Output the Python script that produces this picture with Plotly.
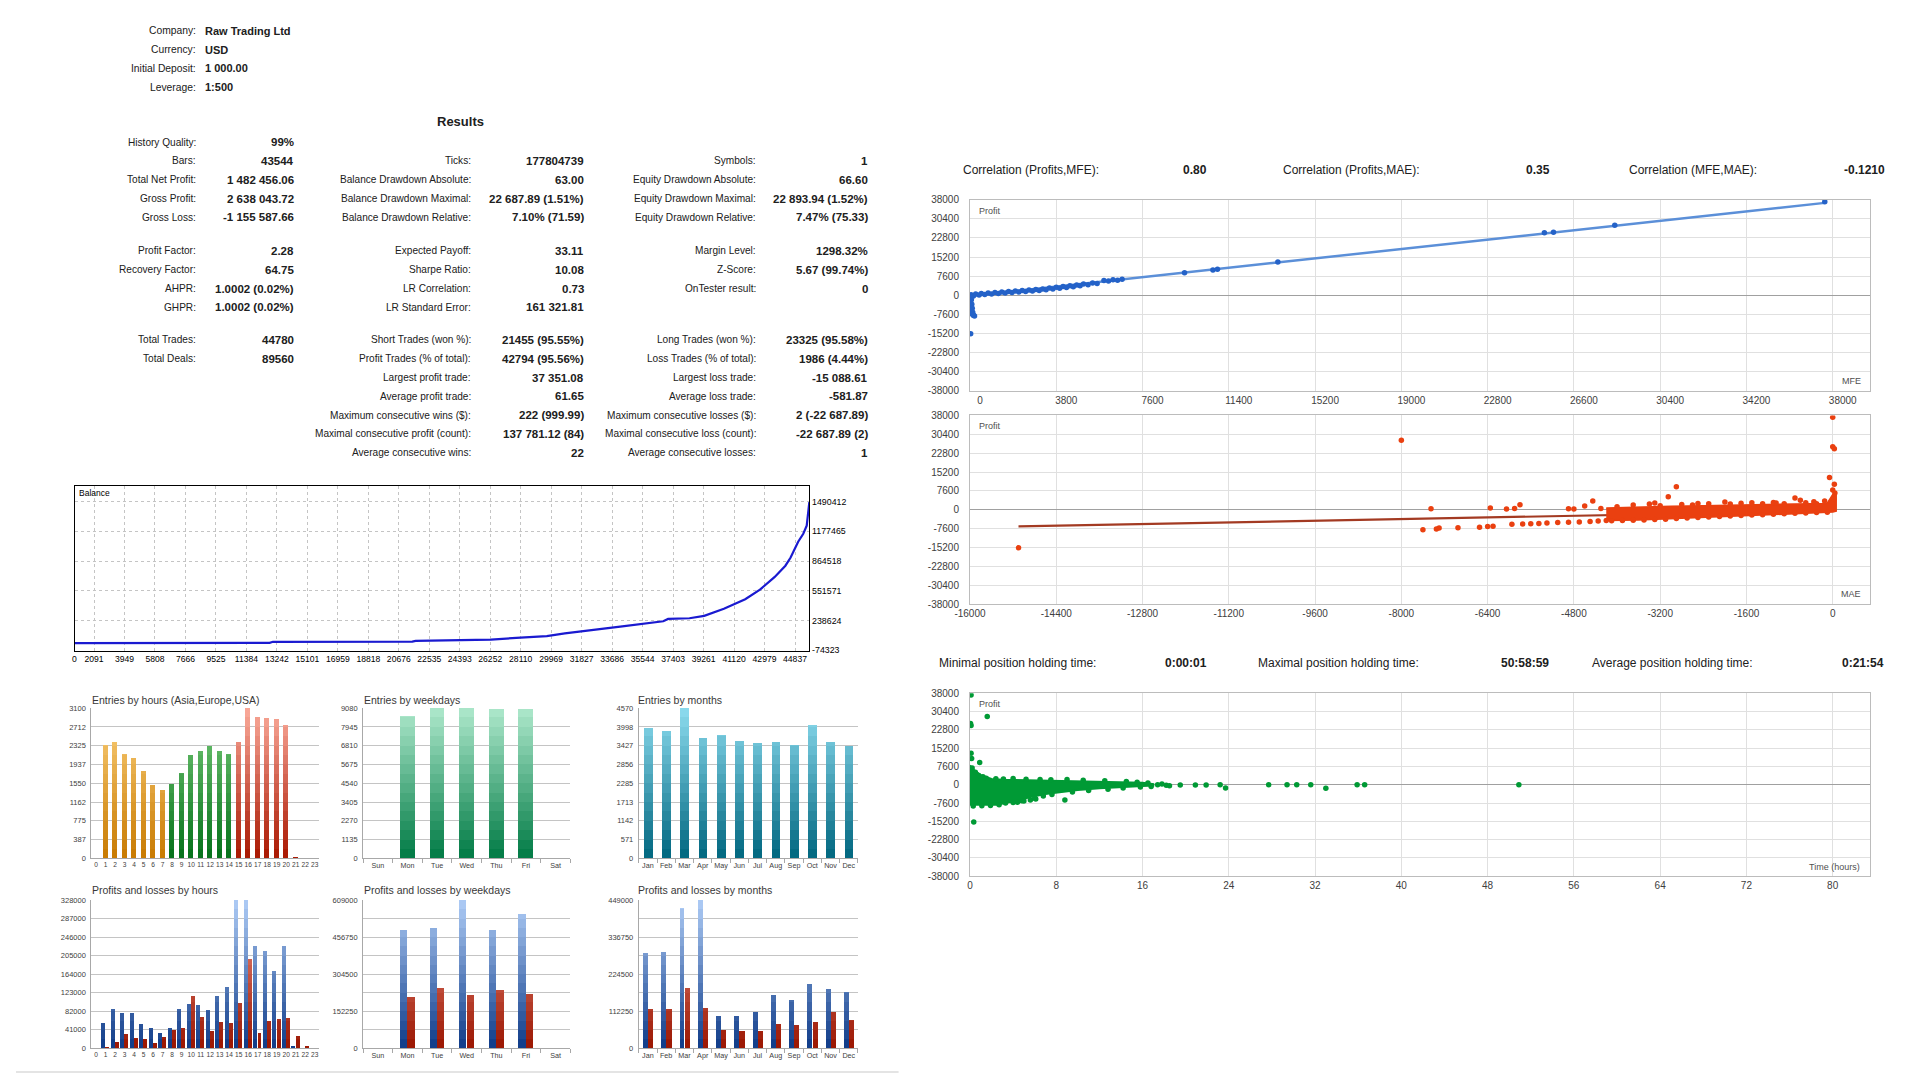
import numpy as np
import plotly.graph_objects as go

# ======================= DATA =======================
info_labels = ["Company:", "Currency:", "Initial Deposit:", "Leverage:"]
info_values = ["Raw Trading Ltd", "USD", "1 000.00", "1:500"]

results_title = "Results"
col1_labels = ["History Quality:", "Bars:", "Total Net Profit:", "Gross Profit:", "Gross Loss:",
               "Profit Factor:", "Recovery Factor:", "AHPR:", "GHPR:",
               "Total Trades:", "Total Deals:"]
col1_values = ["99%", "43544", "1 482 456.06", "2 638 043.72", "-1 155 587.66",
               "2.28", "64.75", "1.0002 (0.02%)", "1.0002 (0.02%)",
               "44780", "89560"]
col2_labels = ["Ticks:", "Balance Drawdown Absolute:", "Balance Drawdown Maximal:", "Balance Drawdown Relative:",
               "Expected Payoff:", "Sharpe Ratio:", "LR Correlation:", "LR Standard Error:",
               "Short Trades (won %):", "Profit Trades (% of total):", "Largest profit trade:",
               "Average profit trade:", "Maximum consecutive wins ($):",
               "Maximal consecutive profit (count):", "Average consecutive wins:"]
col2_values = ["177804739", "63.00", "22 687.89 (1.51%)", "7.10% (71.59)",
               "33.11", "10.08", "0.73", "161 321.81",
               "21455 (95.55%)", "42794 (95.56%)", "37 351.08", "61.65", "222 (999.99)",
               "137 781.12 (84)", "22"]
col3_labels = ["Symbols:", "Equity Drawdown Absolute:", "Equity Drawdown Maximal:", "Equity Drawdown Relative:",
               "Margin Level:", "Z-Score:", "OnTester result:",
               "Long Trades (won %):", "Loss Trades (% of total):", "Largest loss trade:",
               "Average loss trade:", "Maximum consecutive losses ($):",
               "Maximal consecutive loss (count):", "Average consecutive losses:"]
col3_values = ["1", "66.60", "22 893.94 (1.52%)", "7.47% (75.33)",
               "1298.32%", "5.67 (99.74%)", "0",
               "23325 (95.58%)", "1986 (4.44%)", "-15 088.61", "-581.87", "2 (-22 687.89)",
               "-22 687.89 (2)", "1"]

corr_labels = ["Correlation (Profits,MFE):", "Correlation (Profits,MAE):", "Correlation (MFE,MAE):"]
corr_values = ["0.80", "0.35", "-0.1210"]
hold_labels = ["Minimal position holding time:", "Maximal position holding time:", "Average position holding time:"]
hold_values = ["0:00:01", "50:58:59", "0:21:54"]

# Balance curve (axis units as labelled on the chart)
bal_x = [900, 12800, 13000, 21500, 21700, 25000, 26300, 28100, 29700, 30800, 32500, 34300,
         36800, 37100, 38400, 39300, 40500, 41800, 42700, 43600, 44250, 44560, 45030, 45340,
         45550, 45710]
bal_y = [1000, 3000, 14000, 16000, 24000, 33000, 38000, 58000, 75000, 102000, 136000, 176000,
         230000, 255000, 262000, 287000, 361000, 462000, 563000, 697000, 815000, 899000, 1067000,
         1151000, 1236000, 1483456]
bal_xticks = [0, 2091, 3949, 5808, 7666, 9525, 11384, 13242, 15101, 16959, 18818, 20676, 22535,
              24393, 26252, 28110, 29969, 31827, 33686, 35544, 37403, 39261, 41120, 42979, 44837]
bal_yticks = [-74323, 238624, 551571, 864518, 1177465, 1490412]

# Bar charts
hour_labels = [str(h) for h in range(24)]
hour_session = ["Asia"] * 8 + ["Europe"] * 7 + ["USA"] * 9
weekday_labels = ["Sun", "Mon", "Tue", "Wed", "Thu", "Fri", "Sat"]
month_labels = ["Jan", "Feb", "Mar", "Apr", "May", "Jun", "Jul", "Aug", "Sep", "Oct", "Nov", "Dec"]

entries_hours = [0, 2329, 2391, 2157, 2067, 1805, 1502, 1419, 1536, 1757, 2122, 2212, 2308, 2219,
                 2157, 2398, 3100, 2921, 2901, 2866, 2756, 12, 0, 0]
entries_weekdays = [0, 8576, 9080, 9060, 9040, 9024, 0]
entries_months = [3950, 3880, 4570, 3660, 3740, 3560, 3515, 3540, 3435, 4060, 3540, 3415]

pl_hours_profit = [0, 57000, 86000, 79000, 79000, 53000, 45000, 34000, 45000, 88000, 98000, 96000,
                   84000, 115000, 135000, 355000, 346000, 226000, 215000, 172000, 226000, 4400, 0, 0]
pl_hours_loss = [0, 2000, 15000, 32000, 23000, 21000, 11000, 26000, 41000, 46000, 115000, 69000,
                 38000, 59000, 55000, 101000, 197000, 33000, 61000, 64000, 67000, 28000, 5000, 700]
pl_weekdays_profit = [0, 486800, 493600, 622000, 484000, 552000, 0]
pl_weekdays_loss = [0, 210000, 248000, 217000, 240000, 224000, 0]
pl_months_profit = [290000, 292000, 424000, 470000, 97000, 97000, 109000, 162000, 147000, 194000,
                    181000, 172000]
pl_months_loss = [119000, 120000, 182000, 122000, 54000, 52000, 52000, 75000, 72000, 81000,
                  110000, 86000]

entries_hours_ticks = [0, 387, 775, 1162, 1550, 1937, 2325, 2712, 3100]
entries_weekday_ticks = [0, 1135, 2270, 3405, 4540, 5675, 6810, 7945, 9080]
entries_month_ticks = [0, 571, 1142, 1713, 2285, 2856, 3427, 3998, 4570]
pl_hours_ticks = [0, 41000, 82000, 123000, 164000, 205000, 246000, 287000, 328000]
pl_weekday_ticks = [0, 152250, 304500, 456750, 609000]
pl_month_ticks = [0, 112250, 224500, 336750, 449000]

# Scatter charts
profit_ticks = [-38000, -30400, -22800, -15200, -7600, 0, 7600, 15200, 22800, 30400, 38000]
mfe_ticks = [0, 3800, 7600, 11400, 15200, 19000, 22800, 26600, 30400, 34200, 38000]
mae_ticks = [-16000, -14400, -12800, -11200, -9600, -8000, -6400, -4800, -3200, -1600, 0]
hold_ticks = [0, 8, 16, 24, 32, 40, 48, 56, 64, 72, 80]

mfe_x = [50, 150, 250, 400, 500, 650, 800, 950, 1100, 1250, 1400, 1550, 1700, 1850, 2000, 2150,
         2300, 2450, 2600, 2750, 2900, 3050, 3200, 3350, 3500, 3650, 3800, 3950, 4100, 4250, 4400,
         4550, 4700, 4850, 5000, 5200, 5400, 5600, 5900, 6100, 6300, 6500, 6700,
         30, 60, 20, 80, 40, 100, 60, 120, 90, 150, 200, 140, 30,
         9450, 10700, 10900, 13560, 25300, 25700, 28400, 37650]
mfe_profit = [200, -300, 500, 100, 700, 300, 900, 500, 1100, 700, 1300, 900, 1500, 1100, 1700, 1300,
              1900, 1500, 2100, 1700, 2300, 1900, 2500, 2200, 2900, 2500, 3200, 2800, 3500, 3100, 3800,
              3400, 4100, 3800, 4500, 4200, 4900, 4700, 5900, 5700, 6200, 6000, 6400,
              -800, -1800, -2800, -3600, -4400, -5200, -6000, -6800, -7400, -8000, -8300, -7900, -15300,
              8930, 10100, 10400, 13200, 24900, 25100, 27900, 37200]
mfe_fit = {"slope": 0.985, "intercept": -300}

mae_x = [-15100, -8000, -7600, -7450, -7350, -7300, -6950, -6550, -6400, -6350, -6300, -6050, -5950,
         -5900, -5800, -5750, -5600, -5450, -5300, -5100, -4900, -4900, -4800, -4700, -4600, -4500,
         -4450, -4350, -4300, -4200,
         -4100, -3900, -3700, -3500, -3300, -3100, -2900, -2700, -2500, -2300, -2100, -1900, -1700,
         -1500, -1300, -1100, -900, -700, -500, -300, -100,
         -4000, -3700, -3400, -3200, -2800, -2600, -2300, -1900, -1700, -1300, -1100, -900, -500,
         -300, -150, 20,
         -2900, -3050, -3300, -2500, -2000, -1500, -1050, -700, -600, -350,
         0, 0, 30, -60, 30, 0, 40]
mae_profit = [-15300, 28000, -8000, 400, -7700, -7300, -7200, -7000, -6700, 700, -6600, 300, -5800,
              500, 2000, -5700, -5600, -5500, -5300, -5100, 400, -5000, 300, -4900, 1500, -4700,
              3600, -4500, 500, -4300,
              -4400, -4300, -4200, -4100, -3900, -3800, -3500, -3300, -3100, -2900, -2700, -2500, -2300,
              -2100, -2000, -1800, -1600, -1400, -1300, -1100, -1000,
              1200, 1900, 2300, 1600, 2100, 1900, 2400, 2300, 2700, 2500, 3000, 2400, 2900,
              2500, 3600, 4400,
              9300, 5300, 2800, 2600, 3200, 2900, 2800, 4800, 3900, 3300,
              37300, 25400, 24600, 13000, 10300, 8000, 6800]
mae_band_x = [-4200, -3600, -3000, -2400, -1800, -1200, -600, -100, 0, 60,
              60, 0, -400, -1000, -1600, -2000, -2600, -3200, -3600, -4200]
mae_band_profit = [600, 1000, 1300, 1500, 1700, 1900, 2100, 2500, 6000, 6000,
                   -500, -800, -1200, -1700, -2200, -2600, -3200, -3700, -4000, -4200]
mae_fit = {"slope": 0.417, "intercept": -394}

hold_x = [0.1, 0.05, 0.1, 1.6, 0.1, 0.15, 0.9, 0.35, 4.4, 5.0, 5.6, 6.1, 8.8, 17.4, 18.2, 19.5,
          20.9, 21.9, 23.2, 23.7, 27.7, 29.4, 30.3, 31.6, 33.0, 35.9, 36.6, 50.9,
          0.2, 0.5, 0.8, 1.2, 1.5, 2.4, 3.1, 4.0, 5.2, 6.5, 7.5, 9.0, 10.5, 12.5, 14.5, 15.5, 16.5, 17.8,
          0.3, 1.1, 1.9, 2.7, 3.3, 4.0, 4.8, 6.0, 6.8, 7.6, 9.5, 11.0, 12.8, 14.2, 15.8, 16.8, 18.5]
hold_profit = [37300, 25400, 24600, 28400, 13100, 10900, 9200, -15500, -7300, -6800, -6300, -5900,
               -6300, 0, -200, -100, -100, -100, 0, -1400, 0, 0, 0, 0, -1500, 0, 0, 0,
               7000, 5200, 3800, 3300, 2700, 2500, 2400, 2600, 2300, 2200, 2100, 2200, 1900, 1700, 1300,
               1000, 700, 300,
               -8800, -8700, -8600, -8300, -7600, -7400, -6600, -5600, -4700, -4000, -3000, -2400, -1900,
               -1300, -900, -700, -400]
hold_blob_x = [0, 0.4, 1, 2, 3, 5, 8, 10, 12, 14, 16, 17,
               17, 16, 14, 12, 10, 8.5, 7, 5.5, 4.5, 3.5, 2.5, 0]
hold_blob_profit = [8000, 6000, 4000, 2400, 2100, 1900, 1800, 1600, 1400, 1100, 800, 300,
                    -300, -500, -900, -1500, -2200, -2900, -3800, -5200, -6600, -7400, -8300, -8300]

# ======================= STYLE / LAYOUT =======================
W, H = 1920, 1080
FONT = "Liberation Sans"
TXT = "#202020"
AX = "#404040"


def px(x):
    return x / W


def py(y):
    return 1 - y / H


def dom_x(l, r):
    return [l / W, r / W]


def dom_y(t, b):
    return [1 - b / H, 1 - t / H]


def mix(c1, c2, t):
    a = [int(c1[i:i + 2], 16) for i in (1, 3, 5)]
    b = [int(c2[i:i + 2], 16) for i in (1, 3, 5)]
    return "#%02x%02x%02x" % tuple(int(round(a[k] + (b[k] - a[k]) * t)) for k in range(3))


fig = go.Figure()
annotations = []
layout_axes = {}


def ann(x, y, text, size=10, bold=False, anchor="left", color=TXT, vanchor="middle"):
    annotations.append(dict(x=px(x), y=py(y), xref="paper", yref="paper", text=("<b>%s</b>" % text) if bold else text,
                            showarrow=False, xanchor=anchor, yanchor=vanchor, borderpad=0,
                            font=dict(family=FONT, size=size, color=color)))


def ax_keys(i):
    return ("x%d" % i, "y%d" % i, "xaxis%d" % i, "yaxis%d" % i)


# ---------- top info ----------
info_rows_y = [25, 44, 63, 82]
for lab, val, yy in zip(info_labels, info_values, info_rows_y):
    ann(183, yy, lab, 10.3, anchor="right")
    ann(190, yy, val, 11, bold=True)

# ---------- results ----------
ann(448, 117, results_title, 13, bold=True, anchor="center")
group_start = [137.7, 247.7, 337.7]
row_step = 19.0
col1_slots = [(0, 0), (0, 1), (0, 2), (0, 3), (0, 4), (1, 0), (1, 1), (1, 2), (1, 3), (2, 0), (2, 1)]
col2_slots = [(0, 1), (0, 2), (0, 3), (0, 4), (1, 0), (1, 1), (1, 2), (1, 3),
              (2, 0), (2, 1), (2, 2), (2, 3), (2, 4), (2, 5), (2, 6)]
col3_slots = [(0, 1), (0, 2), (0, 3), (0, 4), (1, 0), (1, 1), (1, 2),
              (2, 0), (2, 1), (2, 2), (2, 3), (2, 4), (2, 5), (2, 6)]
cols = [(col1_labels, col1_values, col1_slots, 183, 281),
        (col2_labels, col2_values, col2_slots, 460, 574),
        (col3_labels, col3_values, col3_slots, 747, 860)]
for labs, vals, slots, lx, vx in cols:
    for lab, val, (g, r) in zip(labs, vals, slots):
        yy = group_start[g] + r * row_step
        ann(lx, yy, lab, 10.1, anchor="right")
        ann(vx, yy, val, 11.5, bold=True, anchor="right")

# ---------- balance chart (axis 1) ----------
bx0, bx1, by0, by1 = 59, 800, 485, 652
fig.add_trace(go.Scatter(x=bal_x, y=bal_y, mode="lines", line=dict(color="#1a1ad0", width=2.2),
                         xaxis="x", yaxis="y", hoverinfo="skip"))
bal_tickvals = [bal_x[0]] + bal_xticks[1:]
layout_axes["xaxis"] = dict(domain=dom_x(bx0, bx1), anchor="y", range=[bal_x[0], bal_x[-1]],
                            tickmode="array", tickvals=bal_tickvals, ticktext=[str(v) for v in bal_xticks],
                            showgrid=True, gridcolor="#c4c4c4", griddash="dot", gridwidth=1,
                            showline=True, mirror=True, linecolor="#000000", linewidth=1,
                            ticks="", tickangle=0, tickfont=dict(family=FONT, size=8.6, color="#000"), zeroline=False)
layout_axes["yaxis"] = dict(domain=dom_y(by0, by1), anchor="x", side="right", range=[-80000, 1658000],
                            tickmode="array", tickvals=bal_yticks, ticktext=[str(v) for v in bal_yticks],
                            showgrid=True, gridcolor="#c4c4c4", griddash="dot", gridwidth=1,
                            showline=True, mirror=True, linecolor="#000000", linewidth=1,
                            ticks="", tickfont=dict(family=FONT, size=8.8, color="#000"), zeroline=False)
ann(bx0 + 4, by0 + 7, "Balance", 8.5, color="#000")

# ---------- bar charts ----------
session_colors = {"Asia": ("#c87a00", "#fdd27e"),
                  "Europe": ("#04701a", "#7ccf7c"),
                  "USA": ("#a81600", "#fbab9b")}
weekday_colors = ("#007a44", "#aee8cc")
month_colors = ("#00667f", "#8ddcef")
profit_colors = ("#0e3a88", "#afcdf6")
loss_colors = ("#9a1500", "#f3988a")

NB = 16


def gradient_bars(idx, values, ymax, bottoms, tops, offset, width):
    xk, yk, _, _ = ax_keys(idx)
    xs = list(range(len(values)))
    v = np.array(values, float)
    for k in range(NB - 1, -1, -1):
        hi = ymax * (k + 1) / NB
        hgt = np.minimum(v, hi)
        t = (k + 0.5) / NB
        colors = [mix(b, tp, t) for b, tp in zip(bottoms, tops)]
        fig.add_trace(go.Bar(x=xs, y=hgt, width=width, offset=offset,
                             marker=dict(color=colors, line=dict(width=0)),
                             xaxis=xk, yaxis=yk, hoverinfo="skip"))


def bar_axes(idx, xdom, ydom, labels, ymax, grid_vals, label_vals, boundary_ticks, xfont=7.2):
    _, _, xa, ya = ax_keys(idx)
    n = len(labels)
    xd = dict(domain=dom_x(*xdom), anchor="y%d" % idx, range=[-0.5, n - 0.5],
              tickmode="array", tickvals=list(range(n)), ticktext=labels, ticks="", tickangle=0,
              showgrid=False, showline=True, linecolor="#a8a8a8", linewidth=1, zeroline=False,
              tickfont=dict(family=FONT, size=xfont, color=AX))
    if boundary_ticks:
        xd["minor"] = dict(tickmode="array", tickvals=[i - 0.5 for i in range(n + 1)], ticks="outside",
                           ticklen=4, tickcolor="#a8a8a8", showgrid=False)
    layout_axes[xa] = xd
    layout_axes[ya] = dict(domain=dom_y(*ydom), anchor="x%d" % idx, range=[0, ymax],
                           tickmode="array", tickvals=grid_vals,
                           ticktext=[str(v) if v in label_vals else "" for v in grid_vals],
                           ticks="", showgrid=True, gridcolor="#c4c4c4", gridwidth=1,
                           showline=True, linecolor="#a8a8a8", linewidth=1, zeroline=False,
                           tickfont=dict(family=FONT, size=7.5, color=AX), ticklabelstandoff=3)


def with_mid(ticks):
    out = []
    for a, b in zip(ticks[:-1], ticks[1:]):
        out += [a, (a + b) / 2]
    return out + [ticks[-1]]


row1 = (710, 862)
row2 = (904, 1054)
xh, xw, xm = (76, 306), (350, 559), (628, 849)
TITLE_SIZE = 10.5

# entries by hours (axis 2)
gradient_bars(2, entries_hours, entries_hours_ticks[-1],
              [session_colors[s][0] for s in hour_session], [session_colors[s][1] for s in hour_session],
              -0.28, 0.56)
bar_axes(2, xh, row1, hour_labels, entries_hours_ticks[-1], entries_hours_ticks, entries_hours_ticks, False, 6.6)
ann(xh[0], 702, "Entries by hours (Asia,Europe,USA)", TITLE_SIZE, color="#383838")

# entries by weekdays (axis 3)
gradient_bars(3, entries_weekdays, entries_weekday_ticks[-1],
              [weekday_colors[0]] * 7, [weekday_colors[1]] * 7, -0.25, 0.5)
bar_axes(3, xw, row1, weekday_labels, entries_weekday_ticks[-1], entries_weekday_ticks, entries_weekday_ticks, True)
ann(xw[0], 702, "Entries by weekdays", TITLE_SIZE, color="#383838")

# entries by months (axis 4)
gradient_bars(4, entries_months, entries_month_ticks[-1],
              [month_colors[0]] * 12, [month_colors[1]] * 12, -0.24, 0.48)
bar_axes(4, xm, row1, month_labels, entries_month_ticks[-1], entries_month_ticks, entries_month_ticks, True)
ann(xm[0] - 2, 702, "Entries by months", TITLE_SIZE, color="#383838")

# profits and losses by hours (axis 5)
gradient_bars(5, pl_hours_profit, pl_hours_ticks[-1], [profit_colors[0]] * 24, [profit_colors[1]] * 24, -0.42, 0.42)
gradient_bars(5, pl_hours_loss, pl_hours_ticks[-1], [loss_colors[0]] * 24, [loss_colors[1]] * 24, 0.02, 0.42)
bar_axes(5, xh, row2, hour_labels, pl_hours_ticks[-1], pl_hours_ticks, pl_hours_ticks, False, 6.6)
ann(xh[0], 894, "Profits and losses by hours", TITLE_SIZE, color="#383838")

# profits and losses by weekdays (axis 6)
gradient_bars(6, pl_weekdays_profit, pl_weekday_ticks[-1], [profit_colors[0]] * 7, [profit_colors[1]] * 7, -0.25, 0.24)
gradient_bars(6, pl_weekdays_loss, pl_weekday_ticks[-1], [loss_colors[0]] * 7, [loss_colors[1]] * 7, 0.0, 0.25)
bar_axes(6, xw, row2, weekday_labels, pl_weekday_ticks[-1], with_mid(pl_weekday_ticks), pl_weekday_ticks, True)
ann(xw[0], 894, "Profits and losses by weekdays", TITLE_SIZE, color="#383838")

# profits and losses by months (axis 7)
gradient_bars(7, pl_months_profit, pl_month_ticks[-1], [profit_colors[0]] * 12, [profit_colors[1]] * 12, -0.28, 0.27)
gradient_bars(7, pl_months_loss, pl_month_ticks[-1], [loss_colors[0]] * 12, [loss_colors[1]] * 12, 0.0, 0.28)
bar_axes(7, xm, row2, month_labels, pl_month_ticks[-1], with_mid(pl_month_ticks), pl_month_ticks, True)
ann(xm[0] - 2, 894, "Profits and losses by months", TITLE_SIZE, color="#383838")

# ---------- right side scatter charts ----------
sx0, sx1 = 962, 1870


def scatter_axes(idx, ydom, xrange_, xticks, label_shift=0):
    _, _, xa, ya = ax_keys(idx)
    layout_axes[xa] = dict(domain=dom_x(sx0, sx1), anchor="y%d" % idx, range=xrange_,
                           tickmode="array", tickvals=xticks, ticktext=[str(v) for v in xticks],
                           showgrid=True, gridcolor="#e0e0e0", gridwidth=1, zeroline=False,
                           showline=True, mirror=True, linecolor="#bcbcbc", linewidth=1, ticks="",
                           tickangle=0, ticklabelshift=label_shift,
                           tickfont=dict(family=FONT, size=10, color=AX))
    layout_axes[ya] = dict(domain=dom_y(*ydom), anchor="x%d" % idx, range=[-38000, 38000],
                           tickmode="array", tickvals=profit_ticks, ticktext=[str(v) for v in profit_ticks],
                           showgrid=True, gridcolor="#e0e0e0", gridwidth=1,
                           zeroline=True, zerolinecolor="#a0a0a0", zerolinewidth=1,
                           showline=True, mirror=True, linecolor="#bcbcbc", linewidth=1, ticks="",
                           tickfont=dict(family=FONT, size=10, color=AX), ticklabelstandoff=8)


# correlation header
corr_lx = [954, 1277, 1626]
corr_vx = [1202, 1548, 1886]
for lab, val, lx, vx in zip(corr_labels, corr_values, corr_lx, corr_vx):
    ann(lx, 166, lab, 12)
    ann(vx, 166, val, 12, bold=True, anchor="right")

# MFE chart (axis 8)
mfe_y = (196, 389)
fx = np.array([min(mfe_x), max(mfe_x)], float)
fig.add_trace(go.Scatter(x=fx, y=mfe_fit["slope"] * fx + mfe_fit["intercept"], mode="lines",
                         line=dict(color="#5b8fd8", width=2.5), xaxis="x8", yaxis="y8", hoverinfo="skip"))
fig.add_trace(go.Scatter(x=mfe_x, y=mfe_profit, mode="markers",
                         marker=dict(color="#2462c8", size=5.5), xaxis="x8", yaxis="y8", hoverinfo="skip"))
scatter_axes(8, mfe_y, [0, 39660], mfe_ticks, label_shift=10)
ann(970, mfe_y[0] + 11, "Profit", 9, color="#505050")
ann(1862, mfe_y[1] - 10, "MFE", 9, anchor="right", color="#505050")

# MAE chart (axis 9)
mae_y = (414, 605)
ax_ = np.array([min(mae_x), max(mae_x)], float)
fig.add_trace(go.Scatter(x=ax_, y=mae_fit["slope"] * ax_ + mae_fit["intercept"], mode="lines",
                         line=dict(color="#a33a22", width=2.2), xaxis="x9", yaxis="y9", hoverinfo="skip"))
fig.add_trace(go.Scatter(x=mae_band_x, y=mae_band_profit, mode="lines", fill="toself",
                         fillcolor="#ea4010", line=dict(color="#ea4010", width=2),
                         xaxis="x9", yaxis="y9", hoverinfo="skip"))
fig.add_trace(go.Scatter(x=mae_x, y=mae_profit, mode="markers",
                         marker=dict(color="#ea4010", size=5.5), xaxis="x9", yaxis="y9", hoverinfo="skip"))
scatter_axes(9, mae_y, [-16000, 699], mae_ticks)
ann(970, mae_y[0] + 11, "Profit", 9, color="#505050")
ann(1862, mae_y[1] - 10, "MAE", 9, anchor="right", color="#505050")

# holding header
hold_lx = [930, 1251, 1588]
hold_vx = [1202, 1547, 1885]
for lab, val, lx, vx in zip(hold_labels, hold_values, hold_lx, hold_vx):
    ann(lx, 664, lab, 12)
    ann(vx, 664, val, 12, bold=True, anchor="right")

# holding time chart (axis 10)
hy = (695, 880)
fig.add_trace(go.Scatter(x=hold_blob_x, y=hold_blob_profit, mode="lines", fill="toself",
                         fillcolor="#009a35", line=dict(color="#009a35", width=2),
                         xaxis="x10", yaxis="y10", hoverinfo="skip"))
fig.add_trace(go.Scatter(x=hold_x, y=hold_profit, mode="markers",
                         marker=dict(color="#009a35", size=5.5), xaxis="x10", yaxis="y10", hoverinfo="skip"))
scatter_axes(10, hy, [0, 83.5], hold_ticks)
ann(970, hy[0] + 11, "Profit", 9, color="#505050")
ann(1860, hy[1] - 9, "Time (hours)", 9, anchor="right", color="#505050")

# faint bottom separator
shapes = [dict(type="line", xref="paper", yref="paper", x0=0, x1=px(890), y0=py(1078), y1=py(1078),
               line=dict(color="#e4e4e4", width=2))]

fig.update_layout(width=W, height=H, autosize=False, margin=dict(l=0, r=0, t=0, b=0, pad=0),
                  paper_bgcolor="white", plot_bgcolor="white", showlegend=False,
                  barmode="overlay", bargap=0, font=dict(family=FONT, size=10, color=TXT),
                  annotations=annotations, shapes=shapes, **layout_axes)

fig.write_html("out.html", config={"displayModeBar": False},
               post_script="document.body.style.margin='0px';document.body.style.overflow='hidden';")
